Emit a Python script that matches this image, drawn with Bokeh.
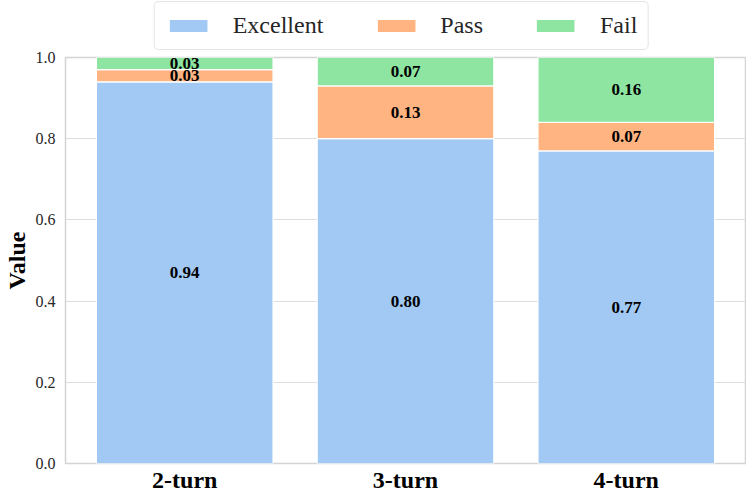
from bokeh.plotting import figure
from bokeh.layouts import column
from bokeh.models import (ColumnDataSource, FactorRange, Range1d, Legend, LegendItem, LabelSet,
                          FixedTicker, NumeralTickFormatter)
from bokeh.embed import file_html
from bokeh.resources import INLINE

categories = ["2-turn", "3-turn", "4-turn"]
excellent = [0.94, 0.80, 0.77]
pass_ = [0.03, 0.13, 0.07]
fail = [0.03, 0.07, 0.16]
series_names = ["Excellent", "Pass", "Fail"]
colors = ["#a1c9f4", "#ffb482", "#8de5a1"]
yticks = [0.0, 0.2, 0.4, 0.6, 0.8, 1.0]

FONT = "Liberation Serif"

src = ColumnDataSource(dict(x=categories, Excellent=excellent, Pass=pass_, Fail=fail))

# ---- main chart ----
p = figure(frame_width=680, frame_height=406, output_backend="svg", toolbar_location=None,
           x_range=FactorRange(*categories, range_padding=0.08 / 3, range_padding_units="percent"),
           y_range=Range1d(0, 1.0), min_border_left=57, min_border_right=1,
           min_border_top=7, min_border_bottom=28)

renderers = p.vbar_stack(series_names, x="x", width=0.8, source=src, color=colors,
                         line_color="white", line_width=1.2)

vals = [excellent, pass_, fail]
lx, ly, lt = [], [], []
for i, c in enumerate(categories):
    bottom = 0.0
    for s in vals:
        v = s[i]
        lx.append(c)
        ly.append(bottom + v / 2)
        lt.append(f"{v:.2f}")
        bottom += v
lsrc = ColumnDataSource(dict(x=lx, y=ly, t=lt))
labels = LabelSet(x="x", y="y", text="t", source=lsrc, text_align="center", text_baseline="middle",
                  text_font=FONT, text_font_style="bold", text_font_size="17px", text_color="black")
p.add_layout(labels)

p.yaxis.ticker = FixedTicker(ticks=yticks)
p.yaxis.formatter = NumeralTickFormatter(format="0.0")
p.yaxis.major_label_text_font = FONT
p.yaxis.major_label_text_font_size = "16px"
p.yaxis.major_label_text_color = "#262626"
p.yaxis.axis_label = "Value"
p.yaxis.axis_label_text_font = FONT
p.yaxis.axis_label_text_font_style = "bold"
p.yaxis.axis_label_text_font_size = "24px"
p.yaxis.axis_label_text_color = "black"
p.yaxis.axis_label_standoff = 3

p.xaxis.major_label_text_font = FONT
p.xaxis.major_label_text_font_style = "bold"
p.xaxis.major_label_text_font_size = "24px"
p.xaxis.major_label_text_color = "black"

for ax in (p.xaxis, p.yaxis):
    ax.axis_line_color = None
    ax.major_tick_line_color = None
    ax.minor_tick_line_color = None
    ax.major_tick_out = 0
    ax.major_tick_in = 0
    ax.minor_tick_out = 0
p.yaxis.major_label_standoff = 10
p.xaxis.major_label_standoff = 3

p.xgrid.grid_line_color = None
p.ygrid.grid_line_color = "#dddddd"
p.ygrid.grid_line_width = 1.2
p.outline_line_color = "#d4d4d4"
p.outline_line_width = 1.5
p.background_fill_color = "white"

# ---- legend strip above the chart (same data, bars kept out of its view) ----
lg = figure(width=738, height=50, output_backend="svg", toolbar_location=None,
            x_axis_type=None, y_axis_type=None,
            x_range=FactorRange(*categories), y_range=Range1d(2, 3),
            min_border_left=57, min_border_right=1, min_border_top=0, min_border_bottom=0)
lg.outline_line_color = None
lg.xgrid.grid_line_color = None
lg.ygrid.grid_line_color = None
lg_renderers = lg.vbar_stack(series_names, x="x", width=0.8, source=src, color=colors,
                             line_color=None)
legend = Legend(items=[LegendItem(label=n, renderers=[r]) for n, r in zip(series_names, lg_renderers)],
                orientation="horizontal", location="bottom_center", glyph_width=47, glyph_height=15,
                label_text_font=FONT, label_text_font_size="24px", label_text_color="#262626",
                label_text_line_height=0.8,
                label_standoff=21, spacing=49, padding=10, margin=0, label_height=20,
                border_line_color="#cccccc", border_line_width=1.2, background_fill_alpha=1.0)
try:
    legend.border_radius = 5
except Exception:
    pass
lg.add_layout(legend, "center")

layout = column(lg, p, spacing=0)
open("out.html", "w").write(file_html(layout, INLINE))
